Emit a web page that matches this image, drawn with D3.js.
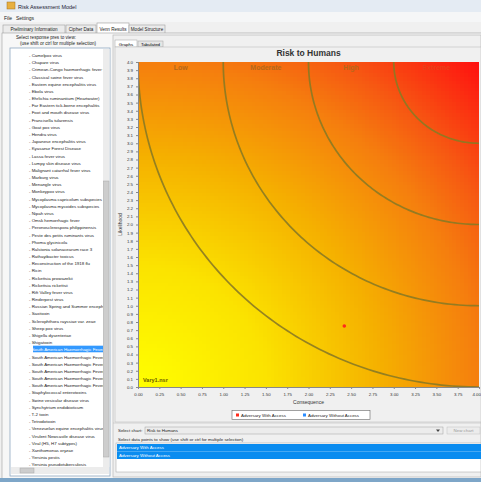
<!DOCTYPE html>
<html><head><meta charset="utf-8">
<script src="https://cdn.jsdelivr.net/npm/d3@7"></script>
<style>
body{margin:0;overflow:hidden;background:#f0f0f0}
svg{display:block;font-family:"Liberation Sans",Arial,sans-serif}
</style></head>
<body><svg id="app" width="481" height="482"></svg>
<script>
// ---------- data ----------
const appTitle = "Risk Assessment Model";
const menuItems = ["File", "Settings"];
const mainTabs = ["Preliminary Information", "Cipher Data", "Venn Results", "Model Structure"];
const activeMainTab = "Venn Results";
const agents = [
  "Camelpox virus","Chapare virus","Crimean-Congo haemorrhagic fever virus","Classical swine fever virus",
  "Eastern equine encephalitis virus","Ebola virus","Ehrlichia ruminantium (Heartwater)","Far Eastern tick-borne encephalitis",
  "Foot and mouth disease virus","Francisella tularensis","Goat pox virus","Hendra virus",
  "Japanese encephalitis virus","Kyasanur Forest Disease","Lassa fever virus","Lumpy skin disease virus",
  "Malignant catarrhal fever virus","Marburg virus","Menangle virus","Monkeypox virus",
  "Mycoplasma capricolum subspecies","Mycoplasma mycoides subspecies","Nipah virus","Omsk hemorrhagic fever",
  "Peronosclerospora philippinensis","Peste des petits ruminants virus","Phoma glycinicola","Ralstonia solanacearum race 3",
  "Rathayibacter toxicus","Reconstruction of the 1918 flu","Ricin","Rickettsia prowazekii",
  "Rickettsia rickettsii","Rift Valley fever virus","Rinderpest virus","Russian Spring and Summer encephalitis",
  "Saxitoxin","Sclerophthora rayssiae var. zeae","Sheep pox virus","Shigella dysenteriae",
  "Shigatoxin","South American Haemorrhagic Fever: Chapare","South American Haemorrhagic Fever: Flexal","South American Haemorrhagic Fever: Guanarito",
  "South American Haemorrhagic Fever: Junin","South American Haemorrhagic Fever: Machupo","South American Haemorrhagic Fever: Sabia","Staphylococcal enterotoxins",
  "Swine vesicular disease virus","Synchytrium endobioticum","T-2 toxin","Tetrodotoxin",
  "Venezuelan equine encephalitis virus","Virulent Newcastle disease virus","Viral (H5, H7 subtypes)","Xanthomonas oryzae",
  "Yersinia pestis","Yersinia pseudotuberculosis"
];
const selectedAgent = "South American Haemorrhagic Fever: Chapare";
const chartTitle = "Risk to Humans";
const xLabel = "Consequence";
const yLabel = "Likelihood";
const xTickValues = [0,0.25,0.5,0.75,1,1.25,1.5,1.75,2,2.25,2.5,2.75,3,3.25,3.5,3.75,4];
const yTickValues = d3.range(0, 41).map(i => i / 10);
const riskRadii = [4, 3, 2, 1];                 // contour radii measured from the (max,max) corner
const zoneNames = ["Low", "Moderate", "High", "Extreme"];
const colourStops = [0, 1.5, 2.85, 4, 4.6, 5.66];
const colourValues = ["#ffff00", "#fbe300", "#f5b000", "#f57e0e", "#f65a12", "#ff1010"];
const seriesNames = ["Adversary With Access", "Adversary Without Access"];
const seriesColours = ["#ff2a1a", "#2a8cff"];
const seriesConsequence = [2.42];
const seriesLikelihood = [0.75];
const fileTag = "Vary1.nsr";
const chartChoice = "Risk to Humans";

// ---------- layout ----------
const svg = d3.select("#app");
const W = 481, H = 482;
svg.append("rect").attr("width", W).attr("height", H).attr("fill", "#f0f0f0");

// title bar
svg.append("rect").attr("x",0).attr("y",0).attr("width",W).attr("height",12).attr("fill","#e4ebf3");
svg.append("rect").attr("x",7).attr("y",2).attr("width",8).attr("height",7).attr("fill","#e8b040").attr("stroke","#a07020").attr("stroke-width",0.5);
svg.append("text").attr("x",18).attr("y",8.5).attr("font-size",5.5).attr("fill","#223").text(appTitle);
// menu
svg.append("rect").attr("x",0).attr("y",12).attr("width",W).attr("height",10).attr("fill","#f5f6f7");
svg.selectAll("text.menu").data(menuItems).join("text").attr("class","menu")
  .attr("x",(d,i)=>4+i*12).attr("y",20).attr("font-size",5).attr("fill","#222").text(d=>d);

// main tabs
const tabX = [3, 66, 97, 129], tabW = [62, 30, 32, 36];
mainTabs.forEach((t,i)=>{
  const act = t===activeMainTab;
  svg.append("rect").attr("x",tabX[i]).attr("y",act?23:25).attr("width",tabW[i]).attr("height",act?11:9)
    .attr("fill",act?"#ffffff":"#ebebeb").attr("stroke","#a0a0a0").attr("stroke-width",0.6);
  svg.append("text").attr("x",tabX[i]+tabW[i]/2).attr("y",31).attr("text-anchor","middle")
    .attr("font-size",4.6).attr("fill","#222").text(t);
});
// tab page
svg.append("rect").attr("x",2).attr("y",33).attr("width",W).attr("height",446).attr("fill","#f7f7f7").attr("stroke","#a0a0a0").attr("stroke-width",0.6);

// ---------- left panel ----------
svg.append("text").attr("x",16).attr("y",39).attr("font-size",4.6).attr("fill","#222").text("Select response pres to view:");
svg.append("text").attr("x",20).attr("y",45).attr("font-size",4.6).attr("fill","#222").text("(use shift or ctrl for multiple selection)");
svg.append("rect").attr("x",10).attr("y",48).attr("width",100).attr("height",428).attr("fill","#ffffff").attr("stroke","#8fa8c0").attr("stroke-width",0.8);
const itemY = d3.scaleLinear().domain([0,1]).range([55.5, 62.68]);
const listG = svg.append("g");
listG.append("clipPath").attr("id","lc").append("rect").attr("x",11).attr("y",49).attr("width",92).attr("height",418);
const items = listG.append("g").attr("clip-path","url(#lc)");
items.selectAll("rect.sel").data(agents.filter(a=>a===selectedAgent)).join("rect").attr("class","sel")
  .attr("x",33).attr("y",d=>itemY(agents.indexOf(d))-4.2).attr("width",70).attr("height",6.6).attr("fill","#3399ff");
items.selectAll("text.it").data(agents).join("text").attr("class","it")
  .attr("x",29).attr("y",(d,i)=>itemY(i)+1.5).attr("font-size",4.4)
  .attr("fill",d=>d===selectedAgent?"#ffffff":"#222").text(d=>"- "+d);
// scrollbars
svg.append("rect").attr("x",103).attr("y",49).attr("width",6.5).attr("height",418).attr("fill","#ececec");
svg.append("rect").attr("x",103.5).attr("y",181).attr("width",5.5).attr("height",276).attr("fill","#cdcdcd").attr("stroke","#a8a8a8").attr("stroke-width",0.5);
svg.append("rect").attr("x",11).attr("y",467).attr("width",98).attr("height",7).attr("fill","#ececec");
svg.append("rect").attr("x",20).attr("y",468).attr("width",14).attr("height",5).attr("fill","#cdcdcd").attr("stroke","#a8a8a8").attr("stroke-width",0.5);

// ---------- right panel ----------
svg.append("rect").attr("x",113).attr("y",35).attr("width",W-113).attr("height",442).attr("fill","#f0f0f0").attr("stroke","#b0b0b0").attr("stroke-width",0.6);
svg.append("rect").attr("x",115).attr("y",40).attr("width",22).attr("height",7).attr("fill","#ffffff").attr("stroke","#a0a0a0").attr("stroke-width",0.5);
svg.append("text").attr("x",126).attr("y",45.5).attr("text-anchor","middle").attr("font-size",4.4).text("Graphs");
svg.append("rect").attr("x",138).attr("y",41).attr("width",25).attr("height",6).attr("fill","#e6e6e6").attr("stroke","#a0a0a0").attr("stroke-width",0.5);
svg.append("text").attr("x",150.5).attr("y",45.5).attr("text-anchor","middle").attr("font-size",4.4).text("Tabulated");
svg.append("rect").attr("x",115).attr("y",47).attr("width",W-115).attr("height",375).attr("fill","#f0f0f0").attr("stroke","#b5b5b5").attr("stroke-width",0.5);

// chart
const M = {l:138, r:479, t:62, b:387};
const x = d3.scaleLinear().domain([0,4]).range([M.l, M.r]);
const y = d3.scaleLinear().domain([0,4]).range([M.b, M.t]);
const colour = d3.scaleLinear().domain(colourStops).range(colourValues).interpolate(d3.interpolateRgb).clamp(true);

svg.append("text").attr("x",(M.l+M.r)/2).attr("y",56).attr("text-anchor","middle")
  .attr("font-size",8.5).attr("font-weight","bold").attr("fill","#333").text(chartTitle);

const plot = svg.append("g");
plot.append("clipPath").attr("id","pc").append("rect").attr("x",M.l).attr("y",M.t).attr("width",M.r-M.l).attr("height",M.b-M.t);
const pg = plot.append("g").attr("clip-path","url(#pc)");
const N = 90;
const cells = [];
const xd = x.domain(), yd = y.domain();
for (let i=0;i<N;i++) for (let j=0;j<N;j++) {
  const cx = xd[0] + (i+0.5)*(xd[1]-xd[0])/N, cy = yd[0] + (j+0.5)*(yd[1]-yd[0])/N;
  cells.push({x0: xd[0]+i*(xd[1]-xd[0])/N, x1: xd[0]+(i+1)*(xd[1]-xd[0])/N,
              y0: yd[0]+j*(yd[1]-yd[0])/N, y1: yd[0]+(j+1)*(yd[1]-yd[0])/N, d: Math.hypot(cx, cy)});
}
pg.selectAll("rect.c").data(cells).join("rect").attr("class","c")
  .attr("x",d=>x(d.x0)).attr("y",d=>y(d.y1)).attr("width",d=>x(d.x1)-x(d.x0)+0.6).attr("height",d=>y(d.y0)-y(d.y1)+0.6)
  .attr("fill",d=>colour(d.d)).attr("shape-rendering","crispEdges");

// contour arcs centred at top-right corner
const cx0 = xd[1], cy0 = yd[1];
const arc = r => d3.line().x(a=>x(cx0 - r*Math.cos(a))).y(a=>y(cy0 - r*Math.sin(a)))(d3.range(0, Math.PI/2+0.001, Math.PI/200));
pg.selectAll("path.ct").data(riskRadii).join("path").attr("class","ct")
  .attr("d",arc).attr("fill","none").attr("stroke","#8a7a24").attr("stroke-opacity",0.9).attr("stroke-width",1.7);
// zone labels
const zoneCentres = riskRadii.map((r,i)=> cx0 - (r + (riskRadii[i+1] ?? 0))/2);
pg.selectAll("text.zn").data(zoneNames).join("text").attr("class","zn")
  .attr("x",(d,i)=>x(zoneCentres[i])).attr("y",M.t+8).attr("text-anchor","middle")
  .attr("font-size",7).attr("font-weight","bold").attr("fill",(d,i)=>i<3?"#b4681a":"#e8401a").text(d=>d);
pg.append("text").attr("x",M.l+5).attr("y",M.b-5).attr("font-size",5.5).attr("font-weight","bold").attr("fill","#6a5a00").text(fileTag);

// points
pg.selectAll("circle.pt").data(seriesConsequence).join("circle").attr("class","pt")
  .attr("cx",d=>x(d)).attr("cy",(d,i)=>y(seriesLikelihood[i])).attr("r",1.8).attr("fill",(d,i)=>seriesColours[i]);

// axes
const xAxis = svg.append("g").attr("transform",`translate(0,${M.b})`)
  .call(d3.axisBottom(x).tickValues(xTickValues).tickFormat(d3.format(".2f")).tickSize(2));
const yAxis = svg.append("g").attr("transform",`translate(${M.l},0)`)
  .call(d3.axisLeft(y).tickValues(yTickValues).tickFormat(d3.format(".1f")).tickSize(2));
[xAxis,yAxis].forEach(a=>{
  a.selectAll("path").attr("stroke","#888");
  a.selectAll("line").attr("stroke","#888");
  a.selectAll("text").attr("font-size",4.4).attr("fill","#333").attr("font-family","Liberation Sans, Arial");
});
xAxis.selectAll("text").attr("dy","0.9em");
xAxis.selectAll(".tick:last-of-type text").attr("text-anchor","end").attr("dx","1.5");
svg.append("text").attr("x",(M.l+M.r)/2).attr("y",404).attr("text-anchor","middle").attr("font-size",5).attr("fill","#333").text(xLabel);
svg.append("text").attr("transform",`translate(122,${(M.t+M.b)/2}) rotate(-90)`).attr("text-anchor","middle").attr("font-size",5).attr("fill","#333").text(yLabel);

// legend
const lg = svg.append("g");
lg.append("rect").attr("x",232).attr("y",410.5).attr("width",138).attr("height",9).attr("fill","#ffffff").attr("stroke","#666").attr("stroke-width",0.6);
const legX = [236, 303];
seriesNames.forEach((s,i)=>{
  lg.append("rect").attr("x",legX[i]).attr("y",413.5).attr("width",3).attr("height",3).attr("fill",seriesColours[i]);
  lg.append("text").attr("x",legX[i]+5).attr("y",417).attr("font-size",4.4).attr("fill","#222").text(s);
});

// bottom controls
svg.append("line").attr("x1",113).attr("x2",W).attr("y1",423).attr("y2",423).attr("stroke","#c0c0c0").attr("stroke-width",0.6);
svg.append("text").attr("x",118).attr("y",432).attr("font-size",4.4).attr("fill","#222").text("Select chart:");
svg.append("rect").attr("x",145).attr("y",427).attr("width",298).attr("height",7).attr("fill","#ececec").attr("stroke","#a0a0a0").attr("stroke-width",0.5);
svg.append("text").attr("x",147).attr("y",432).attr("font-size",4.4).attr("fill","#222").text(chartChoice);
svg.append("path").attr("d","M436,429.5 l4,0 l-2,2.5 z").attr("fill","#444");
svg.append("rect").attr("x",447).attr("y",427).attr("width",33).attr("height",7).attr("fill","#ececec").attr("stroke","#c0c0c0").attr("stroke-width",0.5);
svg.append("text").attr("x",463.5).attr("y",432).attr("text-anchor","middle").attr("font-size",4.4).attr("fill","#999").text("New chart");
svg.append("text").attr("x",118).attr("y",440.5).attr("font-size",4.4).attr("fill","#222").text("Select data points to show (use shift or ctrl for multiple selection)");
svg.append("rect").attr("x",116).attr("y",443).attr("width",W-116).attr("height",29).attr("fill","#ffffff").attr("stroke","#a0a0a0").attr("stroke-width",0.5);
svg.selectAll("rect.ds").data(seriesNames).join("rect").attr("class","ds")
  .attr("x",117).attr("y",(d,i)=>444+i*7.5).attr("width",W-117).attr("height",7.5).attr("fill","#0a8cf0");
svg.selectAll("text.ds").data(seriesNames).join("text").attr("class","ds")
  .attr("x",119).attr("y",(d,i)=>449.3+i*7.5).attr("font-size",4.4).attr("fill","#ffffff").text(d=>d);
// window bottom border
svg.append("rect").attr("x",0).attr("y",478).attr("width",W).attr("height",4).attr("fill","#7ea6c8");
</script>
</body></html>
